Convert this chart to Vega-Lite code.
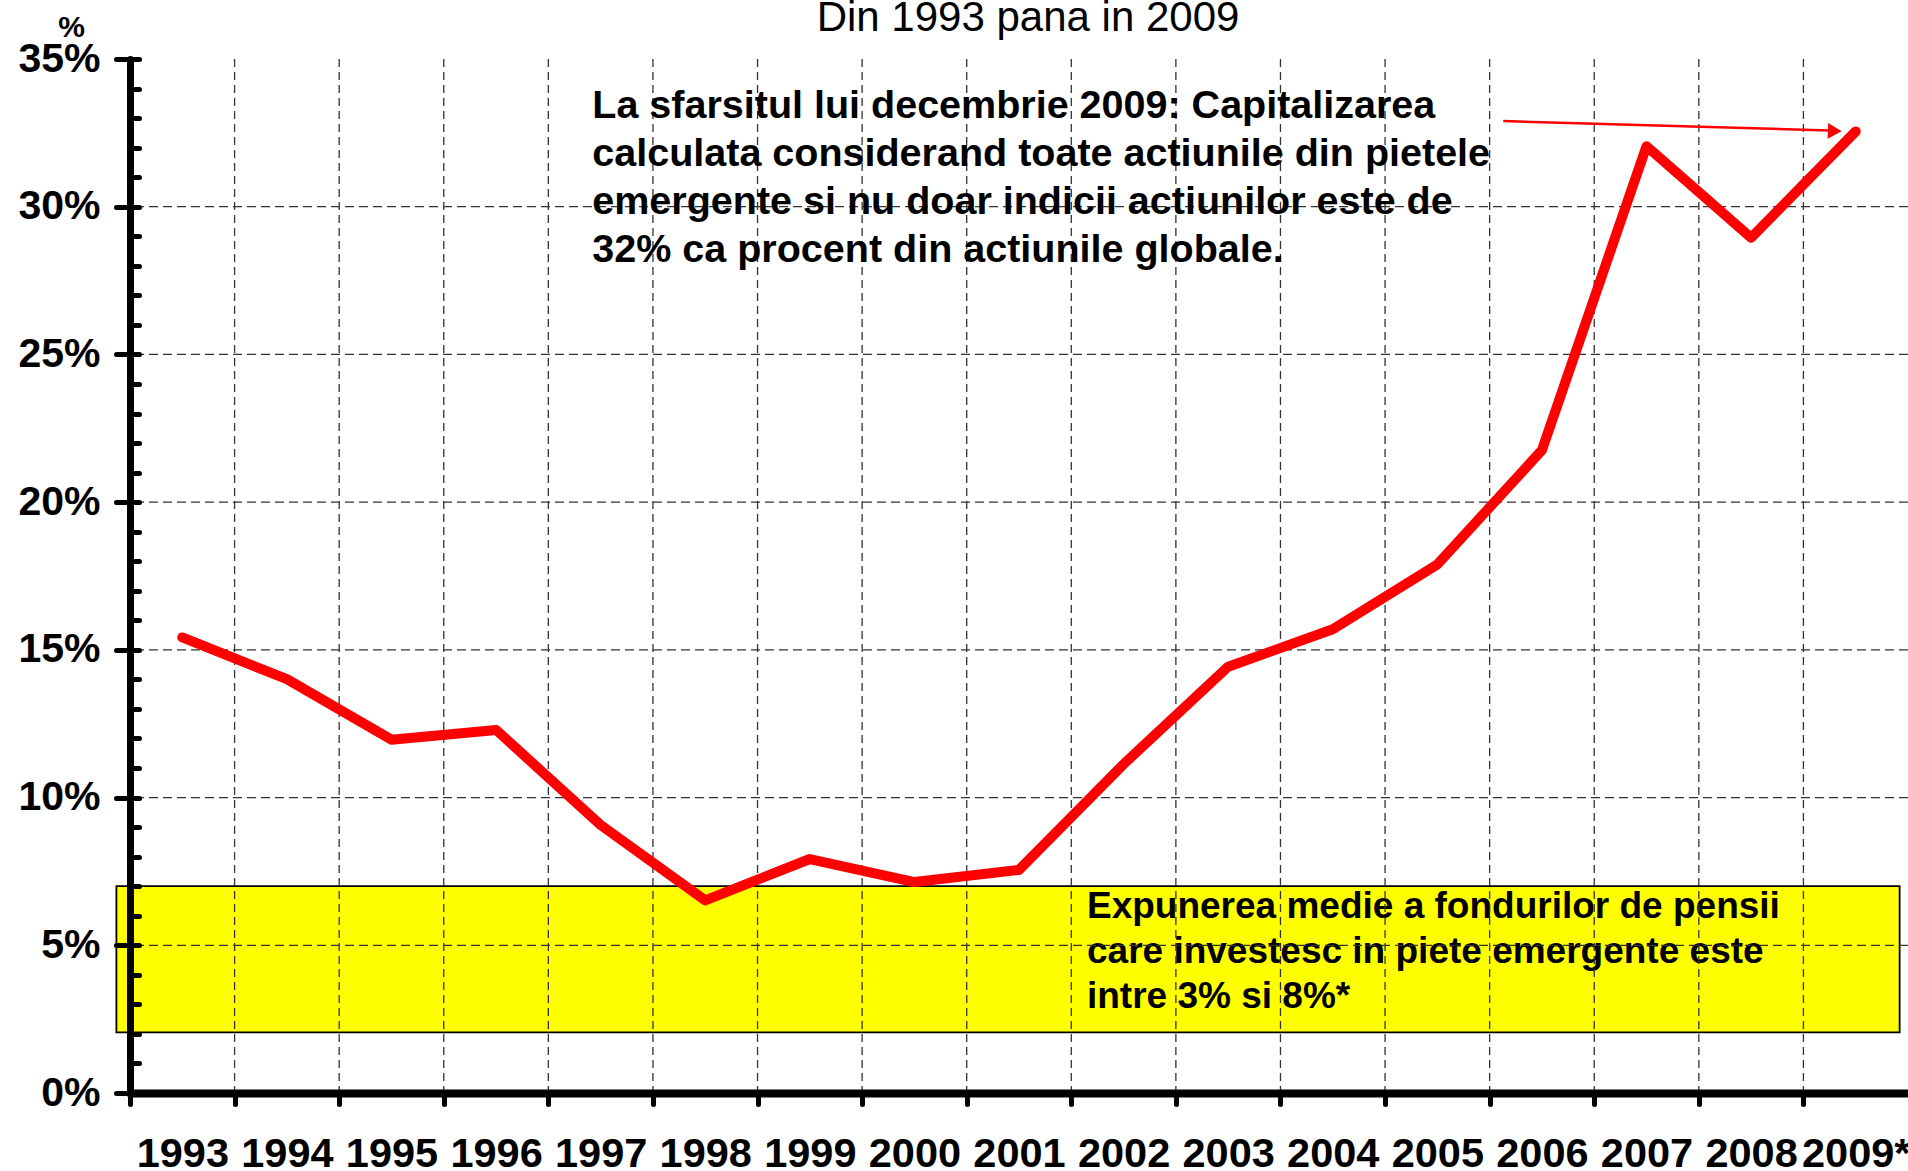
{
  "$schema": "https://vega.github.io/schema/vega-lite/v6.json",
  "width": 1778,
  "height": 1034,
  "autosize": {"type": "none"},
  "padding": {"left": 130, "top": 59, "right": 0, "bottom": 78},
  "background": "white",
  "title": {"text": "Din 1993 pana in 2009", "font": "Liberation Sans", "fontSize": 42, "fontWeight": "normal", "color": "black", "baseline": "alphabetic", "offset": 0, "dy": 61, "anchor": "middle", "dx": 9},
  "config": {"view": {"stroke": null}, "axis": {"grid": false}, "font": "Liberation Sans"},
  "datasets": {
    "series": [
      {"year": 1993, "share": 15.42},
      {"year": 1994, "share": 14.01},
      {"year": 1995, "share": 11.96},
      {"year": 1996, "share": 12.29},
      {"year": 1997, "share": 9.07},
      {"year": 1998, "share": 6.52},
      {"year": 1999, "share": 7.92},
      {"year": 2000, "share": 7.14},
      {"year": 2001, "share": 7.55},
      {"year": 2002, "share": 11.13},
      {"year": 2003, "share": 14.43},
      {"year": 2004, "share": 15.7},
      {"year": 2005, "share": 17.89},
      {"year": 2006, "share": 21.76},
      {"year": 2007, "share": 32.05},
      {"year": 2008, "share": 28.95},
      {"year": 2009, "share": 32.55}
    ],
    "vgrid": [
      {"year": 1993.5}, {"year": 1994.5}, {"year": 1995.5}, {"year": 1996.5},
      {"year": 1997.5}, {"year": 1998.5}, {"year": 1999.5}, {"year": 2000.5},
      {"year": 2001.5}, {"year": 2002.5}, {"year": 2003.5}, {"year": 2004.5},
      {"year": 2005.5}, {"year": 2006.5}, {"year": 2007.5}, {"year": 2008.5}
    ],
    "hgrid": [{"pct": 5}, {"pct": 10}, {"pct": 15}, {"pct": 20}, {"pct": 25}, {"pct": 30}],
    "band": [{"x0": 1992.37, "x1": 2009.42, "lo": 2.05, "hi": 7}],
    "note1": [{"x": 1996.92, "y": 33.0, "label": "La sfarsitul lui decembrie 2009: Capitalizarea\ncalculata considerand toate actiunile din pietele\nemergente si nu doar indicii actiunilor este de\n32% ca procent din actiunile globale."}],
    "note2": [{"x": 2001.65, "y": 5.92, "label": "Expunerea medie a fondurilor de pensii\ncare investesc in piete emergente este\nintre 3% si 8%*"}],
    "arrow": [{"x": 2005.63, "y": 32.9, "x2": 2008.75, "y2": 32.58, "hx": 2008.8, "hy": 32.56}]
  },
  "layer": [
    {
      "data": {"name": "band"},
      "mark": {"type": "rect", "fill": "#FFFF00", "stroke": "black", "strokeWidth": 1.8},
      "encoding": {
        "x": {"field": "x0", "type": "quantitative", "scale": {"domain": [1992.5, 2009.5], "nice": false, "zero": false}, "axis": null},
        "x2": {"field": "x1"},
        "y": {"field": "lo", "type": "quantitative", "scale": {"domain": [0, 35], "nice": false, "zero": false}, "axis": null},
        "y2": {"field": "hi"}
      }
    },
    {
      "data": {"name": "note2"},
      "mark": {"type": "text", "align": "left", "baseline": "alphabetic", "lineBreak": "\n", "lineHeight": 45, "font": "Liberation Sans", "fontSize": 37, "fontWeight": "bold", "color": "black"},
      "encoding": {
        "x": {"field": "x", "type": "quantitative", "scale": {"domain": [1992.5, 2009.5], "nice": false, "zero": false}, "axis": null},
        "y": {"field": "y", "type": "quantitative", "scale": {"domain": [0, 35], "nice": false, "zero": false}, "axis": null},
        "text": {"field": "label"}
      }
    },
    {
      "data": {"name": "vgrid"},
      "mark": {"type": "rule", "color": "#333333", "strokeWidth": 1.3, "strokeDash": [8, 5]},
      "encoding": {
        "x": {"field": "year", "type": "quantitative", "scale": {"domain": [1992.5, 2009.5], "nice": false, "zero": false},
          "axis": {"orient": "bottom", "values": [1992.5, 1993.5, 1994.5, 1995.5, 1996.5, 1997.5, 1998.5, 1999.5, 2000.5, 2001.5, 2002.5, 2003.5, 2004.5, 2005.5, 2006.5, 2007.5, 2008.5],
            "ticks": true, "tickSize": 11, "tickWidth": 5, "tickCap": "round", "tickColor": "black",
            "labels": false, "domain": true, "domainWidth": 8, "domainColor": "black", "domainCap": "round",
            "grid": false, "title": null, "zindex": 1}}
      }
    },
    {
      "data": {"name": "hgrid"},
      "mark": {"type": "rule", "color": "#333333", "strokeWidth": 1.3, "strokeDash": [9, 5]},
      "encoding": {
        "y": {"field": "pct", "type": "quantitative", "scale": {"domain": [0, 35], "nice": false, "zero": false},
          "axis": {"orient": "left", "values": [0, 5, 10, 15, 20, 25, 30, 35],
            "tickSize": 14, "tickWidth": 5, "tickCap": "round", "tickColor": "black",
            "domain": true, "domainWidth": 7, "domainColor": "black", "domainCap": "round",
            "labelExpr": "datum.value + '%'", "labelFont": "Liberation Sans", "labelFontSize": 41, "labelFontWeight": "bold", "labelColor": "black", "labelPadding": 16, "labelFlush": false, "labelOverlap": false, "labelBound": false,
            "title": "%", "titleAngle": 0, "titleX": -59, "titleY": -32, "titleAlign": "center", "titleBaseline": "middle", "titleFont": "Liberation Sans", "titleFontSize": 30, "titleFontWeight": "bold", "titleColor": "black",
            "grid": false, "zindex": 1}}
      }
    },
    {
      "mark": {"type": "rule", "color": "black", "strokeWidth": 3},
      "encoding": {
        "y": {"datum": 35, "type": "quantitative", "scale": {"domain": [0, 35], "nice": false, "zero": false}, "axis": null}
      }
    },
    {
      "data": {"name": "note1"},
      "mark": {"type": "text", "align": "left", "baseline": "alphabetic", "lineBreak": "\n", "lineHeight": 48, "font": "Liberation Sans", "fontSize": 39.5, "fontWeight": "bold", "color": "black"},
      "encoding": {
        "x": {"field": "x", "type": "quantitative", "scale": {"domain": [1992.5, 2009.5], "nice": false, "zero": false}, "axis": null},
        "y": {"field": "y", "type": "quantitative", "scale": {"domain": [0, 35], "nice": false, "zero": false}, "axis": null},
        "text": {"field": "label"}
      }
    },
    {
      "data": {"name": "arrow"},
      "mark": {"type": "rule", "color": "#FF0000", "strokeWidth": 2.5},
      "encoding": {
        "x": {"field": "x", "type": "quantitative", "scale": {"domain": [1992.5, 2009.5], "nice": false, "zero": false}, "axis": null},
        "y": {"field": "y", "type": "quantitative", "scale": {"domain": [0, 35], "nice": false, "zero": false}, "axis": null},
        "x2": {"field": "x2"},
        "y2": {"field": "y2"}
      }
    },
    {
      "data": {"name": "arrow"},
      "mark": {"type": "point", "shape": "triangle-right", "filled": true, "color": "#FF0000", "opacity": 1, "size": 250, "angle": 2},
      "encoding": {
        "x": {"field": "hx", "type": "quantitative", "scale": {"domain": [1992.5, 2009.5], "nice": false, "zero": false}, "axis": null},
        "y": {"field": "hy", "type": "quantitative", "scale": {"domain": [0, 35], "nice": false, "zero": false}, "axis": null}
      }
    },
    {
      "data": {"name": "series"},
      "mark": {"type": "line", "color": "#FF0000", "strokeWidth": 10, "strokeCap": "round", "strokeJoin": "round"},
      "encoding": {
        "x": {"field": "year", "type": "quantitative", "scale": {"domain": [1992.5, 2009.5], "nice": false, "zero": false},
          "axis": {"orient": "bottom", "values": [1993, 1994, 1995, 1996, 1997, 1998, 1999, 2000, 2001, 2002, 2003, 2004, 2005, 2006, 2007, 2008, 2009],
            "format": "d", "ticks": false, "domain": false, "grid": false,
            "labelExpr": "datum.value == 2009 ? '2009*' : datum.label",
            "labelFont": "Liberation Sans", "labelFontSize": 41.5, "labelFontWeight": "bold", "labelColor": "black",
            "labelPadding": 73, "labelBaseline": "alphabetic", "labelOverlap": false, "labelBound": false, "labelFlush": false,
            "title": null, "zindex": 1}},
        "y": {"field": "share", "type": "quantitative", "scale": {"domain": [0, 35], "nice": false, "zero": false},
          "axis": {"orient": "left", "values": [0, 1, 2, 3, 4, 5, 6, 7, 8, 9, 10, 11, 12, 13, 14, 15, 16, 17, 18, 19, 20, 21, 22, 23, 24, 25, 26, 27, 28, 29, 30, 31, 32, 33, 34, 35],
            "tickSize": -9, "tickWidth": 5, "tickCap": "round", "tickColor": "black",
            "labels": false, "domain": false, "grid": false, "title": null, "zindex": 1}}
      }
    }
  ],
  "resolve": {"axis": {"x": "independent", "y": "independent"}}
}
